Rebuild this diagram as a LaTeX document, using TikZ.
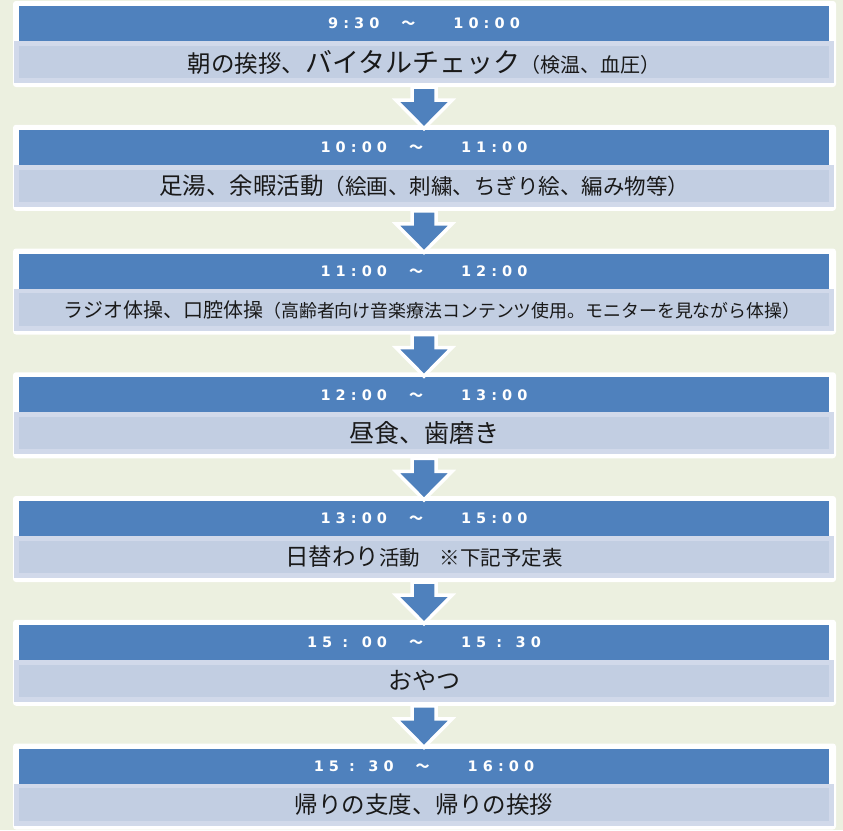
\documentclass[tikz,border=0pt]{standalone}
\usepackage{fontspec}
\newfontfamily\jp{Noto Sans CJK JP}
\newfontfamily\hdr[LetterSpace=35]{DejaVu Sans}
\usetikzlibrary{calc}
\definecolor{pagebg}{RGB}{236,240,224}
\definecolor{hblue}{RGB}{79,129,189}
\definecolor{lboxo}{RGB}{209,217,234}
\definecolor{lboxi}{RGB}{194,206,226}
\definecolor{txt}{RGB}{25,25,25}
\tikzset{
  hdrbox/.style={fill=hblue, minimum width=810pt, minimum height=35pt, inner sep=0pt, text=white, font=\hdr\bfseries\fontsize{14.5}{16}\selectfont},
  txtbox/.style={fill=lboxo, minimum width=820pt, minimum height=42pt, inner sep=0pt},
  bodytext/.style={inner sep=0pt, text=txt, font=\jp},
  frame/.style={fill=white, rounded corners=3pt},
  blockarrow/.style={fill=hblue, draw=white, line width=3.5pt, line join=miter}
}
\newcommand\tl{{\jp\fontsize{14}{16}\selectfont ～}}
\newcommand\gapa{\hspace{22pt}}
\newcommand\gapb{\hspace{38pt}}
\newcommand\fs[1]{\fontsize{#1}{#1}\selectfont}
\newcommand\schedblock[4]{%
  \fill[frame] (13,#2-5) rectangle (836,#2+81);
  \node[txtbox] (b#1) at (424,#2+56) {};
  \fill[lboxi] ($(b#1.north west)+(5,5)$) rectangle ($(b#1.south east)+(-5,-5)$);
  \node[hdrbox] (h#1) at (424,#2+17.5) {#3};
  \node[bodytext] (t#1) at (b#1.center) {#4};
}
\begin{document}
\begin{tikzpicture}[x=1pt,y=-1pt]
\fill[pagebg] (0,0) rectangle (843,830);
\useasboundingbox (0,0) rectangle (843,830);
\schedblock{1}{6}{9:30\gapa\tl\gapb10:00}{{\fs{23.5}朝の挨拶、}{\fs{27}バイタルチェック}{\fs{20}（検温、血圧）}}
\schedblock{2}{129.75}{10:00\gapa\tl\gapb11:00}{{\fs{23.5}足湯、余暇活動}{\fs{21.5}（絵画、刺繍、ちぎり絵、編み物等）}}
\schedblock{3}{253.5}{11:00\gapa\tl\gapb12:00}{\hspace{16pt}{\fs{20}ラジオ体操、口腔体操}{\fs{17.9}（高齢者向け音楽療法コンテンツ使用。モニターを見ながら体操）}}
\schedblock{4}{377.25}{12:00\gapa\tl\gapb13:00}{{\fs{25}昼食、歯磨き}}
\schedblock{5}{501}{13:00\gapa\tl\gapb15:00}{{\fs{23.5}日替わり}{\fs{20.5}活動\hspace{20pt}※下記予定表}}
\schedblock{6}{624.75}{15 : 00\gapa\tl\gapb15 : 30}{{\fs{24}おやつ}}
\schedblock{7}{748.5}{15 : 30\gapa\tl\gapb16:00}{{\fs{23.5}帰りの支度、帰りの挨拶}}
\foreach \i [evaluate=\i as \j using int(\i+1)] in {1,...,6} {
  \draw[blockarrow] ($(b\i.south)+(-12,4)$) -- ($(b\i.south)+(-12,17)$) -- ($(b\i.south)+(-28,17)$) -- ($(h\j.north)+(0,-1)$) -- ($(b\i.south)+(28,17)$) -- ($(b\i.south)+(12,17)$) -- ($(b\i.south)+(12,4)$) -- cycle;
}
\end{tikzpicture}
\end{document}
